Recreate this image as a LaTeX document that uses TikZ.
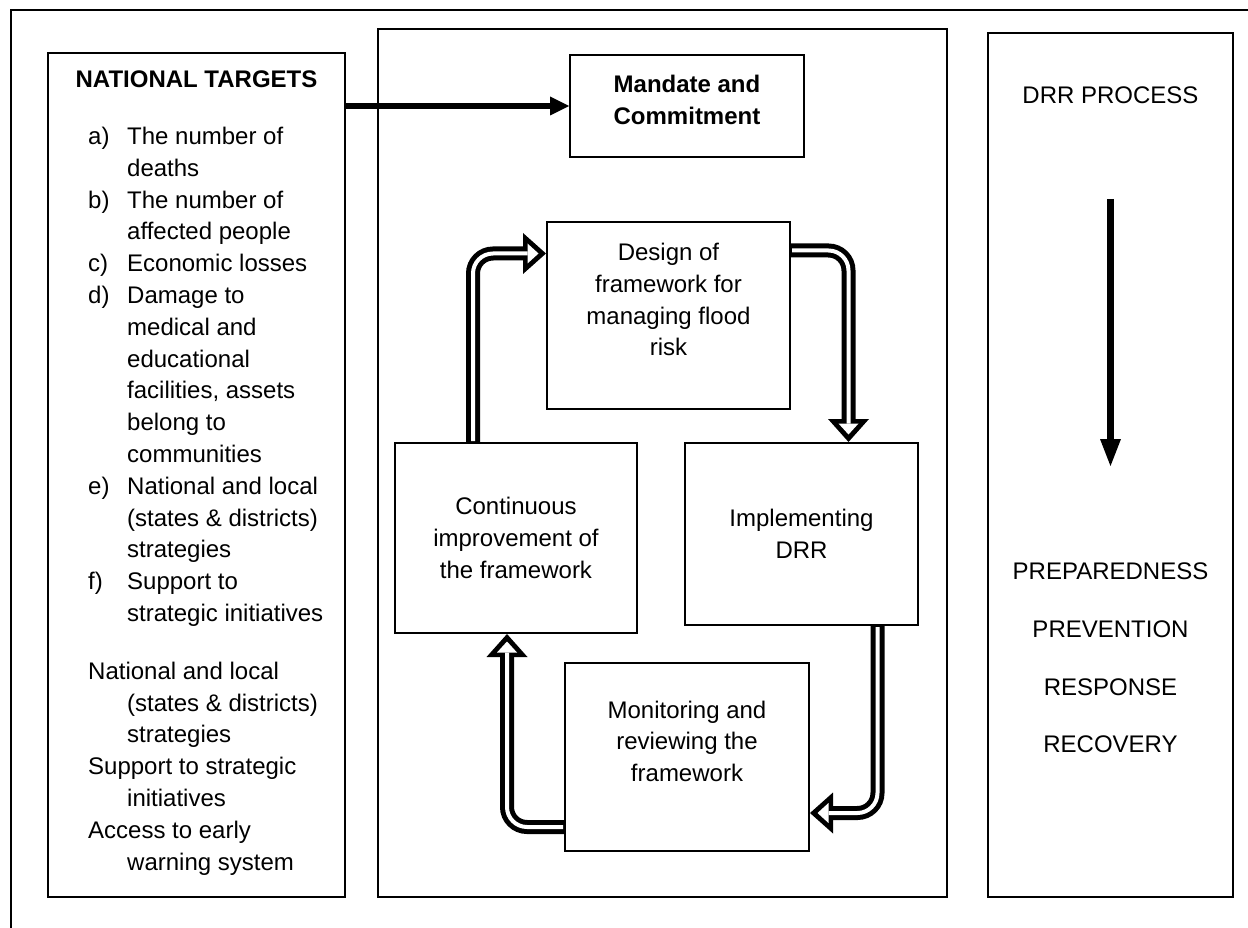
\documentclass[tikz,border=0pt]{standalone}
\usepackage{fontspec}
\setmainfont{Liberation Sans}
\usetikzlibrary{positioning,calc,arrows.meta}
\tikzset{txt/.style={font=\fontsize{24}{31.8}\selectfont, inner sep=0pt}}
\tikzset{txtb/.style={font=\fontsize{24}{31.8}\selectfont\bfseries, inner sep=0pt}}
\tikzset{dbox/.style={draw, line width=2pt, inner sep=0pt, align=center}}
\tikzset{thickarr/.style={draw, line width=5.5pt, -{Triangle[length=19pt,width=19pt,line width=0pt]}}}
\tikzset{hollow/.style={draw, line width=14pt, rounded corners=20pt, -{Triangle[length=23pt,width=41pt,line width=0pt]},
	postaction={draw=white, line width=4pt, shorten <=1pt, shorten >=7.5pt, -{Triangle[length=11pt,width=20pt,line width=0pt]}}}}

\begin{document}
\begin{tikzpicture}[x=1pt, y=-1pt]
	\useasboundingbox (0,0) rectangle (1248,928);
	% page frame, cut off right and below
	\draw[line width=2pt] (1248,10) -- (11,10) -- (11,928);
	%
	\node[dbox, minimum width=297pt, minimum height=844pt] (targets) at (196.5,475) {};
	\node[dbox, minimum width=569pt, minimum height=868pt] (frame) at (662.5,463) {};
	\node[dbox, minimum width=245pt, minimum height=864pt] (process) at (1110.5,465) {};
	%
	\node[txtb, anchor=base] (title) at (196.5,87.6) {NATIONAL TARGETS};
	\node[txt, anchor=base west] (list) at (88,144.5) {%
		\begin{tabular}[t]{@{}p{39pt}@{}l@{}}
		a) & The number of\\
		   & deaths\\
		b) & The number of\\
		   & affected people\\
		c) & Economic losses\\
		d) & Damage to\\
		   & medical and\\
		   & educational\\
		   & facilities, assets\\
		   & belong to\\
		   & communities\\
		e) & National and local\\
		   & (states \& districts)\\
		   & strategies\\
		f) & Support to\\
		   & strategic initiatives\\[26pt]
		\multicolumn{2}{@{}l@{}}{National and local}\\
		   & (states \& districts)\\
		   & strategies\\
		\multicolumn{2}{@{}l@{}}{Support to strategic}\\
		   & initiatives\\
		\multicolumn{2}{@{}l@{}}{Access to early}\\
		   & warning system
		\end{tabular}};
	%
	\node[dbox, txtb, minimum width=234pt, minimum height=102pt] (mandate) at (687,106) {Mandate and\\Commitment\\[-20pt]\mbox{}};
	\node[dbox, txt, minimum width=243pt, minimum height=187pt] (design) at (668.5,315.5) {Design of\\framework for\\managing flood\\risk\\\mbox{}};
	\node[dbox, txt, minimum width=242pt, minimum height=190pt] (cont) at (516,538) {Continuous\\improvement of\\the framework};
	\node[dbox, txt, minimum width=233pt, minimum height=182pt] (impl) at (801.5,534) {Implementing\\DRR};
	\node[dbox, txt, minimum width=244pt, minimum height=188pt] (mon) at (687,757) {Monitoring and\\reviewing the\\framework\\\mbox{}};
	%
	\node[txt] (drr) at (1110.5,95) {DRR PROCESS};
	\node[txt, align=center] (phases) at (1110.5,658) {PREPAREDNESS\\[26pt]PREVENTION\\[26pt]RESPONSE\\[26pt]RECOVERY};
	%
	\draw[thickarr] (targets.east |- mandate.west) -- (mandate.west);
	\draw[thickarr, line width=6.5pt, -{Triangle[length=27pt,width=21pt,line width=0pt]}] ([yshift=-167pt]process.north) -- ([yshift=-434pt]process.north);
	%
	\draw[hollow] ([xshift=-43pt]cont.north) |- ([yshift=62pt]design.west);
	\draw[hollow] ([yshift=65pt]design.east) -| ([xshift=47pt]impl.north);
	\draw[hollow] ([xshift=76pt]impl.south) |- ([yshift=-56pt]mon.east);
	\draw[hollow] ([yshift=-70pt]mon.west) -| ([xshift=-9pt]cont.south);
\end{tikzpicture}
\end{document}
